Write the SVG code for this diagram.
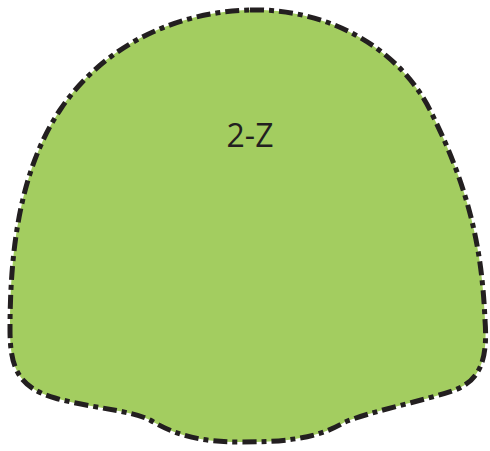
<svg xmlns="http://www.w3.org/2000/svg" width="490" height="451" viewBox="0 0 490 451">
<style>
.blob{fill:#a3cd60;stroke:#231f20;stroke-width:5;stroke-dasharray:14 5 5 5;stroke-linejoin:round}
.lbl{font-family:"Open Sans","Liberation Sans",sans-serif;font-size:32px;fill:#231f20;text-anchor:middle}
</style>
<g id="zone">
<path class="blob" d="M 250 10 C 330 8, 400 50, 430 110 C 470 190, 482 250, 485 320 C 488 360, 480 380, 455 390 C 420 402, 375 410, 345 422 C 315 440, 280 442, 240 442 C 200 442, 175 435, 150 420 C 130 410, 90 408, 55 398 C 20 388, 10 370, 10 330 C 10 250, 20 170, 60 110 C 100 50, 170 12, 250 10 Z"/>
<text class="lbl" x="250" y="147">2-Z</text>
</g>
</svg>
